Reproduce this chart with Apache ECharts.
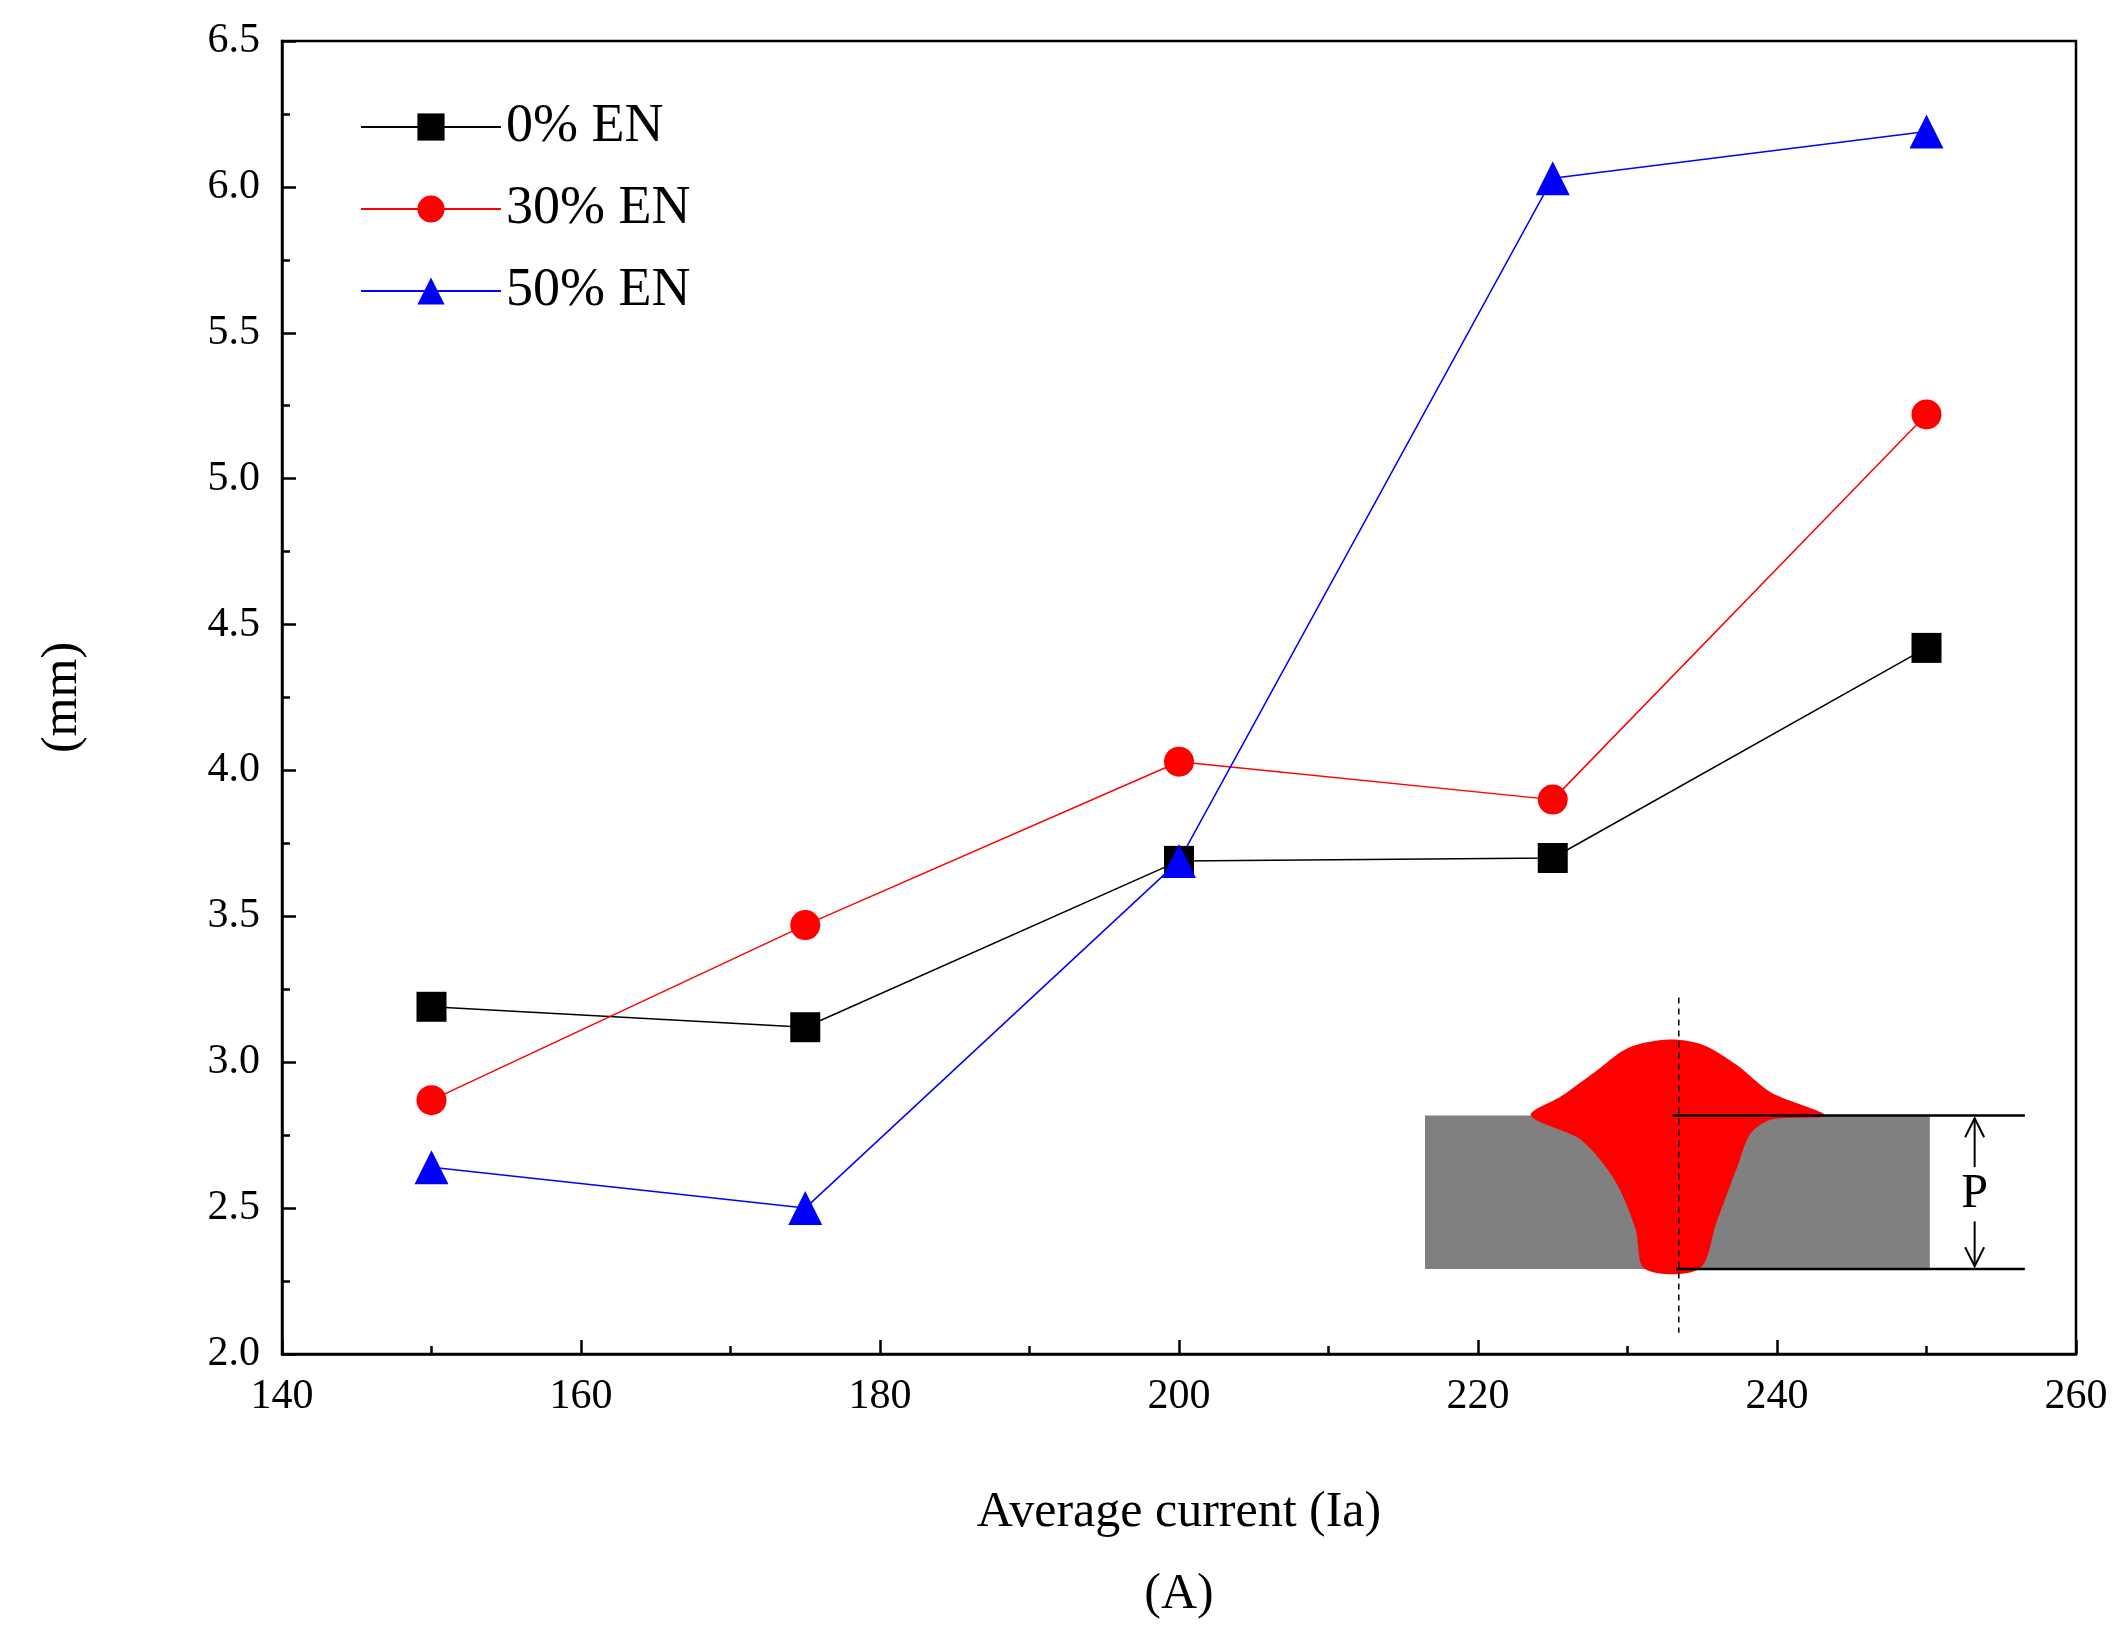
<!DOCTYPE html>
<html><head><meta charset="utf-8">
<script src="https://cdn.jsdelivr.net/npm/echarts@6/dist/echarts.min.js"></script>
<style>html,body{margin:0;padding:0;background:#fff}#c{width:2128px;height:1640px}</style>
</head><body><div id="c"></div>
<script>
const currents = [150, 175, 200, 225, 250];
const en0 = [3.19, 3.12, 3.69, 3.70, 4.42];
const en30 = [2.87, 3.47, 4.03, 3.90, 5.22];
const en50 = [2.64, 2.50, 3.69, 6.03, 6.19];
const names = ['0% EN', '30% EN', '50% EN'];

const s = 2128 / 1568;
const P = (x, y) => [x * s, y * s];
const F = 'Liberation Serif';
const chart = echarts.init(document.getElementById('c'));
const mk = (name, data, color, symbol) => ({
  name, type: 'line', data: currents.map((c, i) => [c, data[i]]),
  symbol, symbolSize: symbol === 'triangle' ? 34 : 30,
  lineStyle: { color, width: 1.5 }, itemStyle: { color }
});
const redPts = [[1128,822],[1150,808],[1175,790],[1200,772],[1230,766],[1255,770],[1280,785],[1305,805],[1345,822],
  [1305,825],[1290,835],[1280,860],[1265,900],[1252,935],[1212,935],[1205,905],[1190,870],[1165,840]].map(p => P(p[0], p[1]));
chart.setOption({
  animation: false,
  grid: { left: 282, right: 52, top: 41, bottom: 286, show: true, borderColor: '#000', borderWidth: 2.5, outerBoundsMode: 'none', containLabel: false },
  legend: {
    orient: 'vertical', left: 355, top: 95, itemWidth: 140, itemHeight: 34, itemGap: 28,
    textStyle: { fontFamily: F, fontSize: 54, color: '#000' }, data: names
  },
  xAxis: {
    type: 'value', min: 140, max: 260, interval: 20,
    name: 'Average current (Ia)\n(A)', nameLocation: 'middle', nameGap: 118,
    nameTextStyle: { fontFamily: F, fontSize: 50, color: '#000', lineHeight: 82 },
    axisLine: { lineStyle: { color: '#000', width: 2.5 } },
    axisTick: { inside: true, length: 14, lineStyle: { width: 2.5 } },
    minorTick: { show: true, splitNumber: 2, length: 8, lineStyle: { color: '#000', width: 2.5 } },
    splitLine: { show: false },
    axisLabel: { fontFamily: F, fontSize: 42, color: '#000', margin: 22 }
  },
  yAxis: {
    type: 'value', min: 2.0, max: 6.5, interval: 0.5,
    name: 'Penetration depth (P)\n(mm)', nameLocation: 'middle', nameGap: 175,
    nameTextStyle: { fontFamily: F, fontSize: 50, color: '#000', lineHeight: 88 },
    axisLine: { lineStyle: { color: '#000', width: 2.5 } },
    axisTick: { inside: true, length: 14, lineStyle: { width: 2.5 } },
    minorTick: { show: true, splitNumber: 2, length: 8, lineStyle: { color: '#000', width: 2.5 } },
    splitLine: { show: false },
    axisLabel: { fontFamily: F, fontSize: 42, color: '#000', margin: 22, formatter: v => v.toFixed(1) }
  },
  series: [mk(names[0], en0, '#000000', 'rect'), mk(names[1], en30, '#ff0000', 'circle'), mk(names[2], en50, '#0000ff', 'triangle')],
  graphic: [
    { type: 'rect', shape: { x: 1050*s, y: 822*s, width: 372*s, height: 113*s }, style: { fill: '#808080' } },
    { type: 'polygon', shape: { points: redPts, smooth: 0.3 }, style: { fill: '#ff0000' } },
    { type: 'line', shape: { x1: 1232*s, y1: 822*s, x2: 1492*s, y2: 822*s }, style: { stroke: '#000', lineWidth: 2.5 } },
    { type: 'line', shape: { x1: 1235*s, y1: 935*s, x2: 1492*s, y2: 935*s }, style: { stroke: '#000', lineWidth: 2.5 } },
    { type: 'line', shape: { x1: 1237*s, y1: 735*s, x2: 1237*s, y2: 982*s }, style: { stroke: '#000', lineWidth: 1.5, lineDash: [6, 5] } },
    { type: 'line', shape: { x1: 1455*s, y1: 824*s, x2: 1455*s, y2: 860*s }, style: { stroke: '#000', lineWidth: 2 } },
    { type: 'line', shape: { x1: 1455*s, y1: 900*s, x2: 1455*s, y2: 933*s }, style: { stroke: '#000', lineWidth: 2 } },
    { type: 'polyline', shape: { points: [P(1448,838), P(1455,824), P(1462,838)] }, style: { stroke: '#000', lineWidth: 2, fill: null } },
    { type: 'polyline', shape: { points: [P(1448,919), P(1455,933), P(1462,919)] }, style: { stroke: '#000', lineWidth: 2, fill: null } },
    { type: 'text', x: 1455*s, y: 880*s, style: { text: 'P', font: '48px "Liberation Serif"', fill: '#000', align: 'center', verticalAlign: 'middle' } }
  ]
});
</script></body></html>
